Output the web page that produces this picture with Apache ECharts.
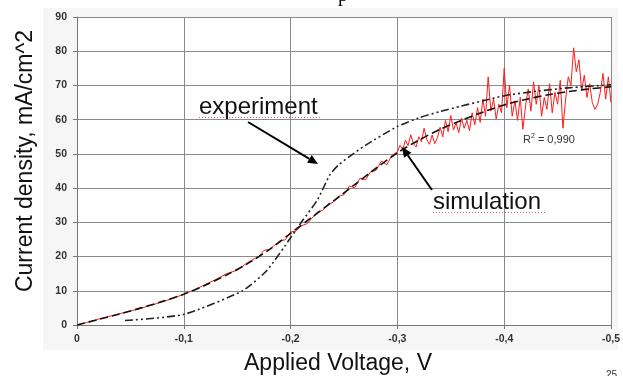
<!DOCTYPE html>
<html>
<head>
<meta charset="utf-8">
<script src="https://cdn.jsdelivr.net/npm/echarts@6/dist/echarts.min.js"></script>
<style>
html,body{margin:0;padding:0;background:#fff;}
#c{width:623px;height:376px;}
</style>
</head>
<body>
<div id="c"></div>
<script>
// Tick labels
const xTicks = [0, -0.1, -0.2, -0.3, -0.4, -0.5];
const yTicks = [0, 10, 20, 30, 40, 50, 60, 70, 80, 90];

// Measured (noisy, red) curve
const expV = [0,-0.01,-0.02,-0.03,-0.04,-0.05,-0.06,-0.07,-0.08,-0.09,-0.1,-0.11,-0.12,-0.13,-0.14,-0.15,-0.16,-0.17,
  -0.175,-0.18,-0.185,-0.19,-0.195,-0.2,-0.205,-0.21,-0.215,-0.22,-0.225,-0.23,-0.235,-0.24,-0.245,-0.25,-0.255,-0.26,-0.265,-0.27,-0.275,-0.28,-0.285,-0.29,-0.295,-0.3,
  -0.3025,-0.305,-0.3075,-0.31,-0.3125,-0.315,-0.3175,-0.32,-0.3225,-0.325,-0.3275,-0.33,-0.3325,-0.335,-0.3375,-0.34,-0.3425,-0.345,-0.3475,-0.35,
  -0.3525,-0.355,-0.3575,-0.36,-0.3625,-0.365,-0.3675,-0.37,-0.3725,-0.375,-0.3775,-0.38,-0.3825,-0.385,-0.3875,-0.39,-0.3925,-0.395,-0.3975,-0.4,
  -0.4025,-0.405,-0.4075,-0.41,-0.4125,-0.415,-0.4175,-0.42,-0.4225,-0.425,-0.4275,-0.43,-0.4325,-0.435,-0.4375,-0.44,-0.4425,-0.445,-0.4475,-0.45,
  -0.4525,-0.455,-0.4575,-0.46,-0.4625,-0.465,-0.4675,-0.47,-0.4725,-0.475,-0.4775,-0.48,-0.4825,-0.485,-0.4875,-0.49,-0.4925,-0.495,-0.4975,-0.5];
const expJ = [0,0.8,1.7,2.5,3.3,4.1,4.9,5.8,6.8,7.8,9.0,10.3,11.8,13.3,15.0,16.0,18.3,20.0,
  21.8,22.1,23.3,24.6,24.9,27.2,27.4,29.0,29.5,31.2,33.0,33.5,35.3,35.9,37.6,38.1,40.6,40.1,42.9,42.4,44.8,45.2,47.9,46.8,49.6,50.6,
  52.5,51.2,54.0,52.4,55.6,53.0,52.0,55.0,53.5,57.5,54.2,52.8,55.5,53.0,54.8,57.8,55.0,59.8,56.5,61.2,
  57.0,59.0,56.2,60.5,57.5,59.8,56.8,62.0,58.5,63.5,59.2,66.0,61.0,72.5,62.5,66.0,60.2,64.5,62.0,75.0,
  63.5,70.0,61.0,65.5,59.8,66.5,57.2,64.0,69.0,62.5,71.0,64.5,70.0,61.0,66.5,63.0,70.5,62.0,68.0,64.5,
  71.5,57.5,66.0,72.5,70.0,81.0,74.0,77.5,68.5,73.0,66.5,70.5,65.0,63.0,64.5,68.0,73.5,66.0,72.5,65.0];

// Fitted curve (black dashed)
const fitV = [0,-0.02,-0.04,-0.06,-0.08,-0.1,-0.12,-0.14,-0.16,-0.18,-0.2,-0.22,-0.24,-0.26,-0.28,-0.3,-0.32,-0.34,-0.36,-0.38,-0.4,-0.42,-0.44,-0.46,-0.48,-0.5];
const fitJ = [0,1.6,3.2,5.0,6.9,9.0,11.6,14.6,18.0,22.0,26.8,31.5,36.2,41.0,45.8,50.3,54.0,57.2,59.8,62.2,64.3,65.9,67.2,68.2,69.0,69.6];

// Second curve (dash-dot-dot)
const simV = [-0.045,-0.1,-0.155,-0.178,-0.2,-0.21,-0.225,-0.237,-0.245,-0.255,-0.27,-0.3,-0.32,-0.34,-0.36,-0.38,-0.4,-0.43,-0.46,-0.5];
const simJ = [1.3,3.1,10.0,16.0,25.5,30.0,36.5,44.0,46.8,49.2,52.5,58.0,60.5,62.4,64.0,65.5,67.0,68.3,69.3,70.2];

const pairs = (xs, ys) => xs.map((v, i) => [v, ys[i]]);

function arrow(x1, y1, x2, y2) {
  const a = Math.atan2(y2 - y1, x2 - x1), L = 10, W = 4.5;
  const bx = x2 - L * Math.cos(a), by = y2 - L * Math.sin(a);
  const px = -Math.sin(a) * W, py = Math.cos(a) * W;
  return [
    {type: 'line', shape: {x1: x1, y1: y1, x2: bx, y2: by}, style: {stroke: '#000', lineWidth: 2}, z: 50},
    {type: 'polygon', shape: {points: [[x2, y2], [bx + px, by + py], [bx - px, by - py]]}, style: {fill: '#000'}, z: 50}
  ];
}

const chart = echarts.init(document.getElementById('c'), null, {renderer: 'canvas'});
const FONT = 'Liberation Sans';
const fmtX = v => { const r = Math.round(v * 10) / 10; return r === 0 ? '0' : r.toFixed(1).replace('.', ','); };

chart.setOption({
  animation: false,
  backgroundColor: '#ffffff',
  grid: {left: 77, right: 12, top: 17, bottom: 51, containLabel: false, outerBoundsMode: 'none',
         show: true, backgroundColor: '#ffffff', borderWidth: 0},
  xAxis: {
    type: 'value', min: -0.5, max: 0, interval: 0.1, inverse: true,
    name: 'Applied Voltage, V', nameLocation: 'middle', nameGap: 27,
    nameTextStyle: {fontFamily: FONT, fontSize: 23, color: '#111', padding: [0, 12, 0, 0]},
    axisLine: {show: true, onZero: false, lineStyle: {color: '#777', width: 1}},
    axisTick: {show: true, length: 4, lineStyle: {color: '#777'}},
    axisLabel: {fontFamily: FONT, fontSize: 10.5, fontWeight: 'bold', color: '#333', margin: 9,
      formatter: v => fmtX(v), showMaxLabel: true, showMinLabel: true},
    splitLine: {show: true, lineStyle: {color: '#8a8a8a', width: 1}}
  },
  yAxis: {
    type: 'value', min: 0, max: 90, interval: 10,
    name: 'Current density, mA/cm^2', nameLocation: 'middle', nameGap: 40,
    nameTextStyle: {fontFamily: FONT, fontSize: 23, color: '#111', padding: [0, 0, 0, 20]},
    axisLine: {show: true, onZero: false, lineStyle: {color: '#777', width: 1}},
    axisTick: {show: true, length: 4, lineStyle: {color: '#777'}},
    axisLabel: {fontFamily: FONT, fontSize: 10.5, fontWeight: 'bold', color: '#333', margin: 10,
      formatter: v => String(v)},
    splitLine: {show: true, lineStyle: {color: '#8a8a8a', width: 1}}
  },
  series: [
    {type: 'line', name: 'measured', data: pairs(expV, expJ), showSymbol: false, symbol: 'none',
     lineStyle: {color: '#ff1a1a', width: 1}, z: 3},
    {type: 'line', name: 'fit', data: pairs(fitV, fitJ), showSymbol: false, symbol: 'none', smooth: 0.3,
     lineStyle: {color: '#111', width: 1.6, type: [8, 4]}, z: 4},
    {type: 'line', name: 'model', data: pairs(simV, simJ), showSymbol: false, symbol: 'none', smooth: 0.2,
     lineStyle: {color: '#222', width: 1.6, type: [8, 3, 2, 3, 2, 3]}, z: 5}
  ],
  graphic: [
    {type: 'rect', shape: {x: 43, y: 8, width: 575, height: 342}, style: {fill: '#f6f6f6'}, z: -100, silent: true},
    {type: 'text', x: 199, y: 107, style: {text: 'experiment', fontFamily: FONT, fontSize: 24, fill: '#111', verticalAlign: 'middle', align: 'left'}, z: 50},
    {type: 'line', shape: {x1: 199, y1: 117.5, x2: 322, y2: 117.5}, style: {stroke: '#e06060', lineWidth: 1, lineDash: [1, 2]}, z: 49},
    {type: 'text', x: 433, y: 202, style: {text: 'simulation', fontFamily: FONT, fontSize: 24, fill: '#111', verticalAlign: 'middle', align: 'left'}, z: 50},
    {type: 'line', shape: {x1: 433, y1: 212.5, x2: 545, y2: 212.5}, style: {stroke: '#e06060', lineWidth: 1, lineDash: [1, 2]}, z: 49},
    {type: 'text', x: 523, y: 140, style: {
      text: '{a|R}{s|2}{a| = 0,990}', verticalAlign: 'middle', align: 'left',
      rich: {a: {fontFamily: FONT, fontSize: 11, fill: '#333', color: '#333'},
             s: {fontFamily: FONT, fontSize: 7, fill: '#333', color: '#333', padding: [0, 0, 7, 0]}}}, z: 50},
    {type: 'text', x: 338, y: -4, style: {text: 'p', fontFamily: 'Liberation Serif', fontSize: 20, fill: '#000', verticalAlign: 'middle'}, z: 50},
    {type: 'text', x: 606, y: 370, style: {text: '25', fontFamily: FONT, fontSize: 10, fill: '#333', verticalAlign: 'top'}, z: 50}
  ].concat(arrow(248, 122, 318, 164)).concat(arrow(432, 190, 402, 147))
});
</script>
</body>
</html>
